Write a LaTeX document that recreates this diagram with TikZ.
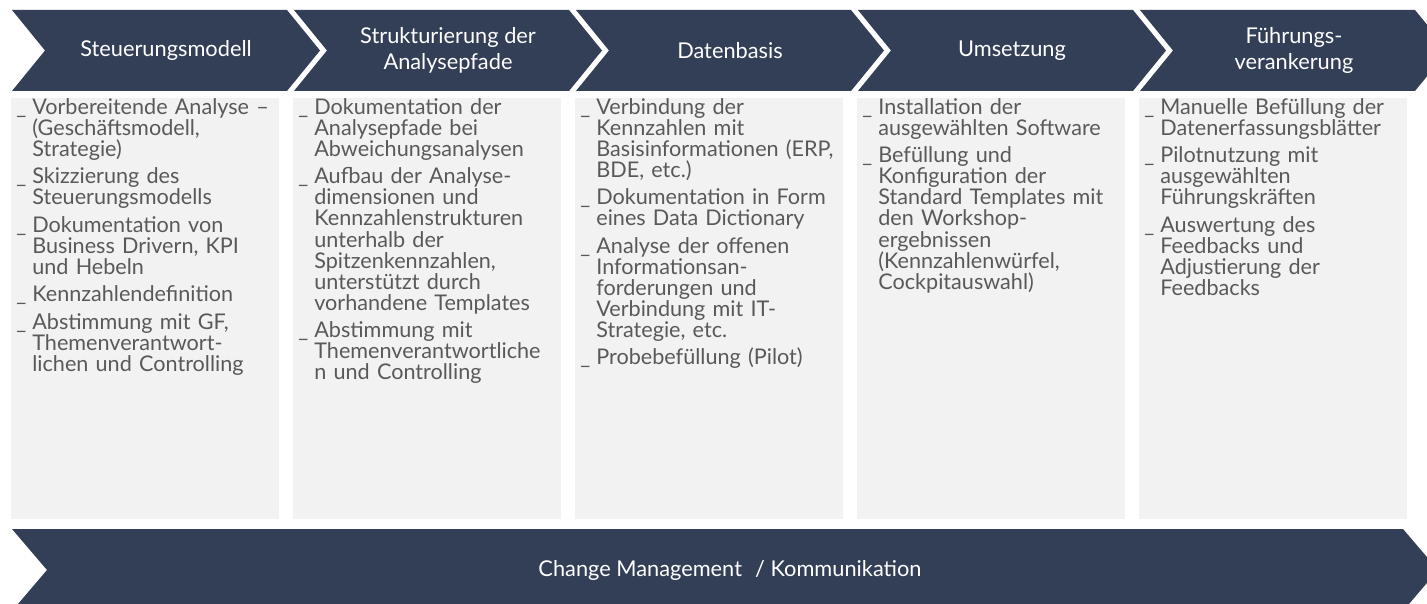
\documentclass[tikz,border=0pt]{standalone}
\usepackage{fontspec}
\setmainfont{Lato}
\setlength{\parindent}{0pt}
\definecolor{navy}{RGB}{50,63,86}
\definecolor{boxgrey}{RGB}{242,242,242}
\definecolor{txtgrey}{RGB}{89,89,89}
\newcommand\mk{\makebox[0.32cm][l]{\_}}
\newcommand\ind{\hspace*{0.32cm}}
\tikzset{
  chevron/.style={fill=navy},
  card/.style={fill=boxgrey},
  head/.style={text=white, align=center, inner sep=0pt, font=\fontsize{12.4}{14.9}\selectfont},
  body/.style={text=txtgrey, anchor=north west, text width=5.2cm, align=left, inner sep=0pt, font=\fontsize{12.3}{12}\selectfont},
}
\begin{document}
\begin{tikzpicture}[x=0.02cm, y=-0.02cm]
    \useasboundingbox (0,0) rectangle (1427,604);
    \clip (0,0) rectangle (1427,604);
    % phases and cards
    \foreach \i in {0,...,4} {
      \fill[chevron] ({12+282*\i},10) -- ({287+282*\i},10) -- ({320+282*\i},50.5) -- ({287+282*\i},91) -- ({12+282*\i},91) -- ({45+282*\i},50.5) -- cycle;
      \fill[card] ({11+282*\i},98) rectangle ({279+282*\i},519);
    }
    % change band
    \fill[chevron] (12,529) -- (1403,529) -- (1438,570) -- (1403,611) -- (12,611) -- (47,570) -- cycle;
    \node[head] (h1) at (166,50.5) {Steuerungsmodell};
    \node[head] (h2) at (448,50.5) {Strukturierung der\\Analysepfade};
    \node[head] (h3) at (730,50.5) {Datenbasis};
    \node[head] (h4) at (1012,50.5) {Umsetzung};
    \node[head] (h5) at (1294,50.5) {Führungs-\\verankerung};
    \node[head] (chg) at (730,570) {Change Management\hspace{0.6em}/ Kommunikation};
    \node[body] (b1) at (16,98) {\mk Vorbereitende Analyse –\\ \ind(Geschäftsmodell,\\ \ind Strategie)\\[0.125cm]
      \mk Skizzierung des\\ \ind Steuerungsmodells\\[0.125cm]
      \mk Dokumentation von\\ \ind Business Drivern, KPI\\ \ind und Hebeln\\[0.125cm]
      \mk Kennzahlendefinition\\[0.125cm]
      \mk Abstimmung mit GF,\\ \ind Themenverantwort-\\ \ind lichen und Controlling};
    \node[body] (b2) at (298,98) {\mk Dokumentation der\\ \ind Analysepfade bei\\ \ind Abweichungsanalysen\\[0.125cm]
      \mk Aufbau der Analyse-\\ \ind dimensionen und\\ \ind Kennzahlenstrukturen\\ \ind unterhalb der\\ \ind Spitzenkennzahlen,\\ \ind unterstützt durch\\ \ind vorhandene Templates\\[0.125cm]
      \mk Abstimmung mit\\ \ind Themenverantwortliche\\ \ind n und Controlling};
    \node[body] (b3) at (580,98) {\mk Verbindung der\\ \ind Kennzahlen mit\\ \ind Basisinformationen (ERP,\\ \ind BDE, etc.)\\[0.125cm]
      \mk Dokumentation in Form\\ \ind eines Data Dictionary\\[0.125cm]
      \mk Analyse der offenen\\ \ind Informationsan-\\ \ind forderungen und\\ \ind Verbindung mit IT-\\ \ind Strategie, etc.\\[0.125cm]
      \mk Probebefüllung (Pilot)};
    \node[body] (b4) at (862,98) {\mk Installation der\\ \ind ausgewählten Software\\[0.125cm]
      \mk Befüllung und\\ \ind Konfiguration der\\ \ind Standard Templates mit\\ \ind den Workshop-\\ \ind ergebnissen\\ \ind (Kennzahlenwürfel,\\ \ind Cockpitauswahl)};
    \node[body] (b5) at (1144,98) {\mk Manuelle Befüllung der\\ \ind Datenerfassungsblätter\\[0.125cm]
      \mk Pilotnutzung mit\\ \ind ausgewählten\\ \ind Führungskräften\\[0.125cm]
      \mk Auswertung des\\ \ind Feedbacks und\\ \ind Adjustierung der\\ \ind Feedbacks};
\end{tikzpicture}
\end{document}
